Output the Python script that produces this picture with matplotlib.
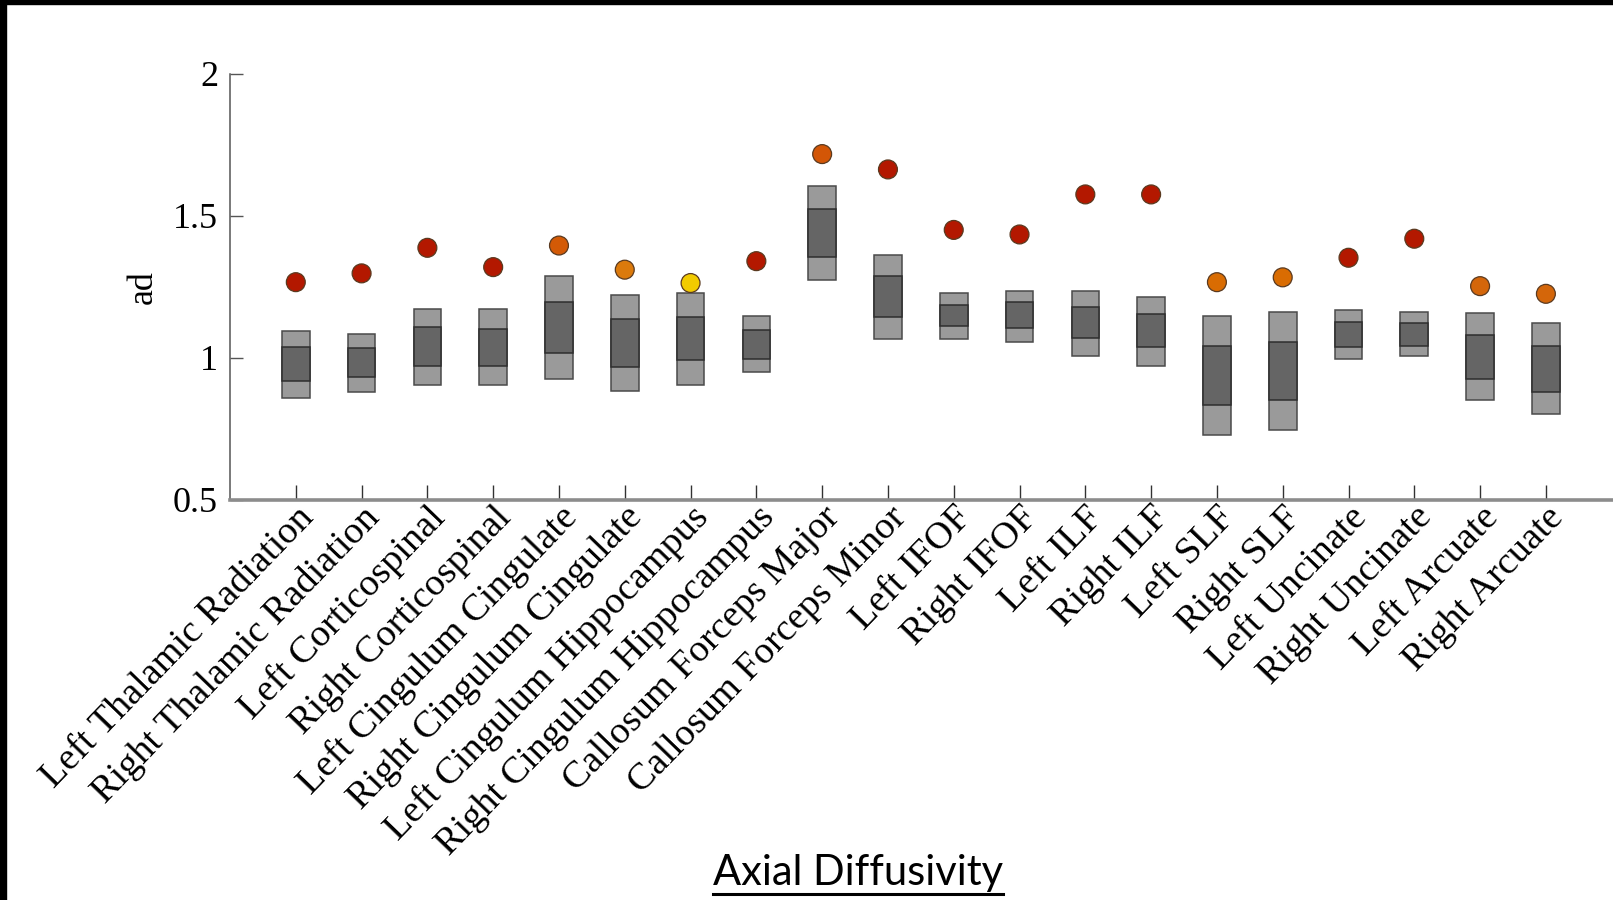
import numpy as np
import matplotlib
matplotlib.use("agg")
import matplotlib.pyplot as plt
import matplotlib.transforms as mtransforms
from matplotlib.patches import Rectangle
from matplotlib.lines import Line2D

TRACTS = ["Left Thalamic Radiation", "Right Thalamic Radiation", "Left Corticospinal",
	"Right Corticospinal", "Left Cingulum Cingulate", "Right Cingulum Cingulate",
	"Left Cingulum Hippocampus", "Right Cingulum Hippocampus", "Callosum Forceps Major",
	"Callosum Forceps Minor", "Left IFOF", "Right IFOF", "Left ILF", "Right ILF",
	"Left SLF", "Right SLF", "Left Uncinate", "Right Uncinate", "Left Arcuate", "Right Arcuate"]

# outer (light) range of the normative distribution
OUTER_LOW	= [0.859, 0.882, 0.906, 0.906, 0.926, 0.885, 0.906, 0.949, 1.276, 1.067,
			   1.067, 1.055, 1.008, 0.973, 0.730, 0.746, 0.996, 1.006, 0.852, 0.803]
OUTER_HIGH	= [1.096, 1.085, 1.173, 1.173, 1.287, 1.222, 1.228, 1.147, 1.604, 1.361,
			   1.229, 1.237, 1.237, 1.216, 1.147, 1.163, 1.170, 1.163, 1.157, 1.123]
# inner (dark) range
INNER_LOW	= [0.918, 0.934, 0.973, 0.973, 1.016, 0.967, 0.993, 0.996, 1.357, 1.143,
			   1.112, 1.105, 1.069, 1.040, 0.835, 0.852, 1.038, 1.043, 0.926, 0.879]
INNER_HIGH	= [1.038, 1.035, 1.108, 1.102, 1.196, 1.137, 1.146, 1.099, 1.523, 1.288,
			   1.188, 1.196, 1.179, 1.155, 1.041, 1.058, 1.128, 1.123, 1.081, 1.041]
# patient value
PATIENT		= [1.267, 1.298, 1.388, 1.320, 1.396, 1.311, 1.264, 1.341, 1.718, 1.664,
			   1.451, 1.435, 1.576, 1.576, 1.267, 1.284, 1.353, 1.420, 1.253, 1.226]
DOT_COLORS	= ["#b31800", "#b31800", "#b31800", "#b31800", "#d35a06", "#dc7a0c",
			   "#f2cb00", "#b31800", "#d35606", "#b31800", "#b31800", "#b31800",
			   "#b31800", "#b31800", "#d96c02", "#d96c02", "#b31800", "#b31800",
			   "#d4660a", "#d4660a"]

SERIF = ["Liberation Serif", "DejaVu Serif"]

def ad_plot():
	fig = plt.figure(figsize=(16.13, 9.0), dpi=100)
	ax = fig.add_axes([230/1613, 1-500/900, 1383/1613, 426/900])

	x = np.arange(len(TRACTS))
	lo, hi = np.array(OUTER_LOW), np.array(OUTER_HIGH)
	ilo, ihi = np.array(INNER_LOW), np.array(INNER_HIGH)

	# light boxes, then dark inner boxes on top
	ax.bar(x, hi-lo, bottom=lo, width=0.42, color="#9a9a9a", edgecolor="#4a4a4a",
		linewidth=1.1, zorder=2)
	ax.bar(x, ihi-ilo, bottom=ilo, width=0.42, color="#656565", edgecolor="#2e2e2e",
		linewidth=1.1, zorder=3)
	ax.scatter(x, PATIENT, s=185, c=DOT_COLORS, edgecolors="#5a3a20", linewidths=0.9,
		zorder=4)

	ax.set_xlim(-1.0, 20.02)
	ax.set_ylim(0.5, 2)
	ax.set_yticks([0.5, 1, 1.5, 2])
	ax.set_yticklabels(["0.5", "1", "1.5", "2"], family=SERIF, fontsize=26)
	ax.set_xticks(x)
	ax.set_xticklabels(TRACTS, family=SERIF, fontsize=27.5, rotation=46,
		ha="right", va="top", rotation_mode="anchor")
	offset = mtransforms.ScaledTranslation(11/100, -12/100, fig.dpi_scale_trans)
	for lab in ax.get_xticklabels():
		lab.set_transform(lab.get_transform() + offset)

	ax.tick_params(axis="x", direction="in", length=10.8, width=1.0, color="#333333", pad=0)
	ax.tick_params(axis="y", direction="in", length=9.4, width=1.0, color="#555555", pad=8.6)

	for side in ["top", "right"]:
		ax.spines[side].set_visible(False)
	ax.spines["bottom"].set_color("#8c8c8c")
	ax.spines["bottom"].set_linewidth(2.6)
	ax.spines["left"].set_color("#555555")
	ax.spines["left"].set_linewidth(1.1)

	ax.set_ylabel("ad", family=SERIF, fontsize=26)
	ax.yaxis.set_label_coords(-0.0506, 0.5)

	# caption, underlined
	title = fig.text(858/1613, 1-885/900, "Axial Diffusivity", family="Lato",
		fontsize=30, ha="center", va="baseline")
	fig.canvas.draw()
	bb = title.get_window_extent()
	fig.add_artist(Line2D([bb.x0/1613, bb.x1/1613], [1-894/900, 1-894/900],
		color="black", linewidth=2.2, transform=fig.transFigure))

	# black frame edges of the original slide
	fig.patches.append(Rectangle((0, 1-4/900), 1, 4/900, transform=fig.transFigure,
		color="black", zorder=10))
	fig.patches.append(Rectangle((0, 0), 6/1613, 1, transform=fig.transFigure,
		color="black", zorder=10))

	fig.savefig("out.png", dpi=100)

if __name__ == "__main__":
	ad_plot()
